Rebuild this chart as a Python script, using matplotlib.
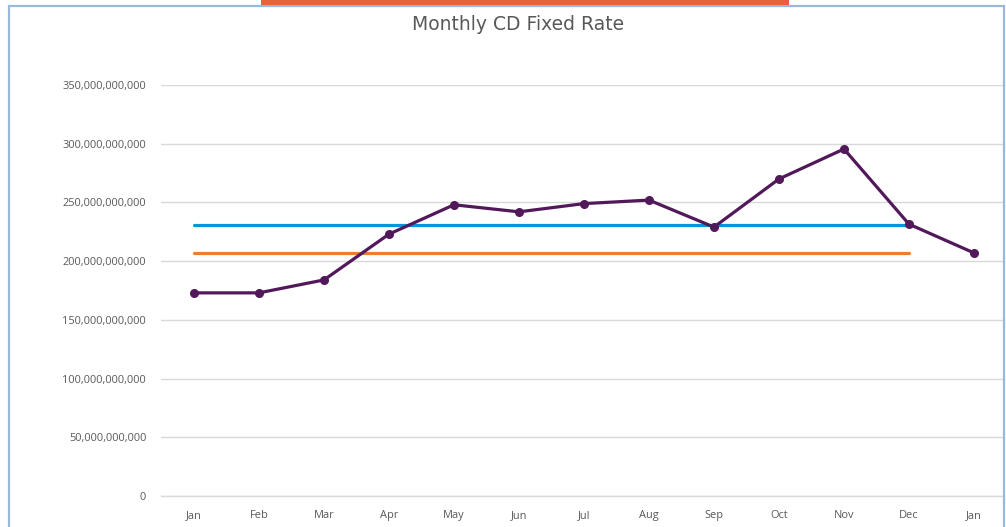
"""Monthly CD fixed rate line chart with average and reference lines."""

import matplotlib.pyplot as plt
from matplotlib.patches import Rectangle
from matplotlib.ticker import FuncFormatter

months = ["Jan", "Feb", "Mar", "Apr", "May", "Jun", "Jul", "Aug", "Sep", "Oct", "Nov", "Dec", "Jan"]
balance = [173e9, 173e9, 184e9, 223e9, 248e9, 242e9, 249e9, 252e9, 229e9, 270e9, 295.5e9, 231.5e9, 207e9]
average = [230.8e9] * 12
reference = [207e9] * 12

text_color = "#595959"

fig = plt.figure(figsize=(10.06, 5.27), dpi=100)
ax = fig.add_axes([0.1605, 0.0588, 0.8365, 0.7799])

x = list(range(len(months)))
ax.plot(x[:12], average, color="#0A96D6", linewidth=2.3, solid_capstyle="round", zorder=3)
ax.plot(x[:12], reference, color="#EE7D31", linewidth=2.3, solid_capstyle="round", zorder=3)
ax.plot(x, balance, color="#52195A", linewidth=2.3, marker="o", markersize=5.5, zorder=4)

ax.set_xlim(-0.5, 12.446)
ax.set_ylim(0, 350e9)
ax.set_yticks([i * 50e9 for i in range(8)])
ax.yaxis.set_major_formatter(FuncFormatter(lambda v, _: f"{v:,.0f}"))
ax.set_xticks(x)
ax.set_xticklabels(months)

ax.grid(True, axis="y", color="#d9d9d9", linewidth=1)
ax.set_axisbelow(True)
for side in ["top", "right", "left"]:
    ax.spines[side].set_visible(False)
ax.spines["bottom"].set_color("#d9d9d9")
ax.spines["bottom"].set_linewidth(1)
ax.tick_params(length=0, labelsize=7.9, labelcolor=text_color, labelfontfamily="Open Sans")
ax.tick_params(axis="y", pad=11)
ax.tick_params(axis="x", pad=10)

fig.text(0.515, 0.953, "Monthly CD Fixed Rate", ha="center", va="center",
         fontsize=13.5, color=text_color, family=["Liberation Sans Narrow", "DejaVu Sans"])

# chart frame and the red strip above it
fig.patches.append(Rectangle((8.5 / 1006, -0.1), (1004 - 8.5) / 1006, 1.1 - 5.5 / 527,
                             transform=fig.transFigure, fill=False, edgecolor="#9BB8DA", linewidth=1.6))
fig.patches.append(Rectangle((261 / 1006, 1 - 4.5 / 527), (789 - 261) / 1006, 4.5 / 527,
                             transform=fig.transFigure, color="#E8613F", linewidth=0))

plt.savefig("out.png", dpi=100)
plt.close()
